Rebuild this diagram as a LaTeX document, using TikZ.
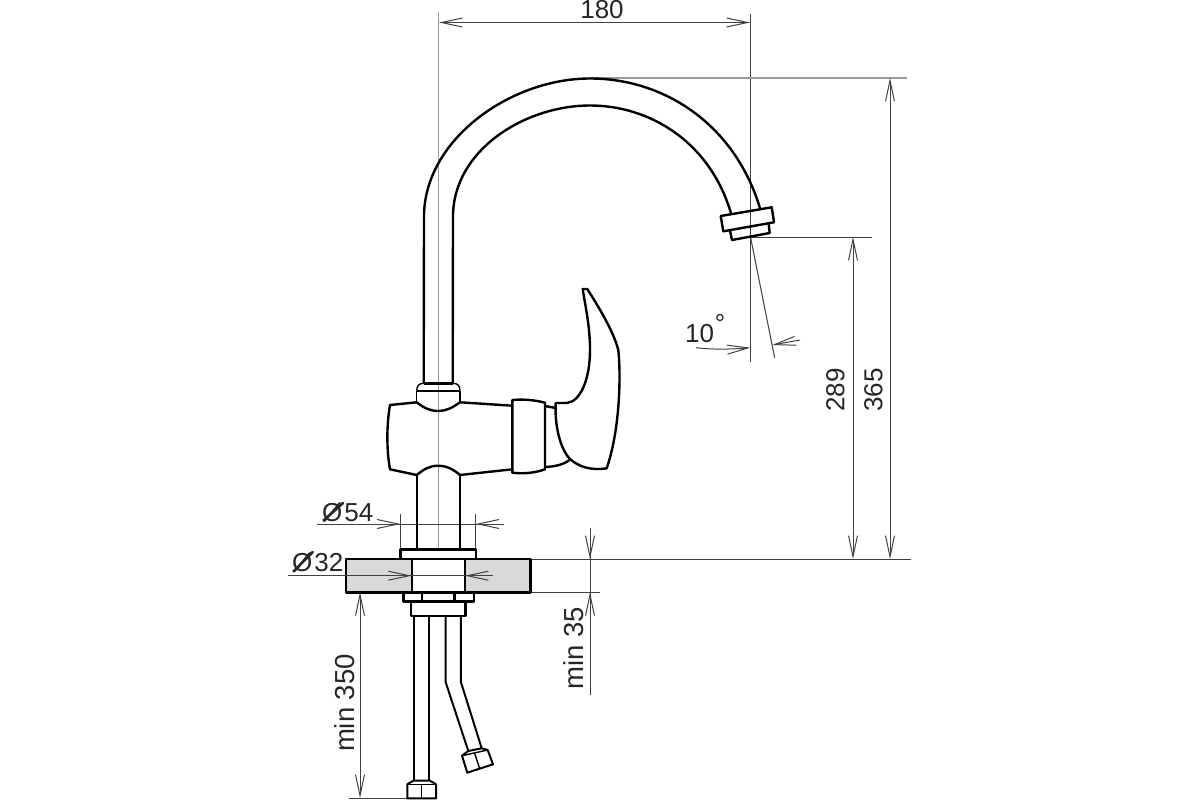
\documentclass[tikz,border=0pt]{standalone}
\usepackage{fontspec}
\setmainfont{Liberation Sans}
\usetikzlibrary{arrows.meta}
\tikzset{
  outline/.style={line width=2.4pt,black,line join=round},
  semioutline/.style={line width=2pt,black,line join=round},
  hairline/.style={line width=1.4pt,black,line join=round},
  dim/.style={line width=1pt,black!75},
  light/.style={line width=1.2pt,black!40},
  slash/.style={line width=2.6pt,black!85,line cap=round},
  tip/.style={dim,{Straight Barb[length=21pt,width=9pt,line width=1pt]}-{Straight Barb[length=21pt,width=9pt,line width=1pt]}},
  endtip/.style={dim,-{Straight Barb[length=21pt,width=9pt,line width=1pt]}},
  label/.style={inner sep=0pt,text=black!85,font=\fontsize{26}{30}\selectfont},
  minlabel/.style={inner sep=0pt,text=black!85,font=\fontsize{27.5}{30}\selectfont}
}
\begin{document}
\begin{tikzpicture}[x=1pt,y=-1pt]
\useasboundingbox (0,0) rectangle (1200,800);
% plate
\fill[black!15] (345.7,559) rectangle (530.3,592.3);
% thin lines
\draw[light] (438.5,12) -- (438.5,549);
\draw[dim] (750.5,14) -- (750.5,362);
\draw[dim] (750.5,237) -- (774.7,358);
\draw[dim] (750.5,237) -- (872,237);
\draw[light] (590,78) -- (907,78);
\draw[dim] (530,559) -- (911,559);
\draw[dim] (530,592.3) -- (600,592.3);
\draw[dim] (349,798.5) -- (407,798.5);
\draw[dim] (400.5,514) -- (400.5,549);
\draw[dim] (475.7,514) -- (475.7,549);
% dimensions
\draw[tip] (439,22.5) -- (750,22.5);
\draw[tip] (853,237) -- (853,559);
\draw[tip] (890,78) -- (890,559);
\draw[tip] (360,592.3) -- (360,798);
\draw[dim] (316.7,524) -- (504,524);
\draw[endtip] (380,524) -- (400.5,524);
\draw[endtip] (504,524) -- (475.7,524);
\draw[endtip] (590,528) -- (590,559);
\draw[endtip] (590,695) -- (590,592.3);
\draw[dim] (590,528) -- (590,695);
\draw[endtip] (696,347.7) .. controls (715,350) and (735,349) .. (750.5,347.7);
\draw[endtip] (800,340) -- (772.3,345);
% spout
\draw[outline] (423.7,383.3) -- (424,216.7) .. controls (424,140) and (510,78.5) .. (590,78.5) .. controls (665,78.5) and (735,125) .. (760,208.3);
\draw[outline] (452.7,383.3) -- (453,216.7) .. controls (453,150) and (525,105.5) .. (590,105.5) .. controls (650,105.5) and (710,142) .. (731,213.3);
\draw[outline] (720.7,216) -- (771.7,207.3) -- (774,222.3) -- (723.3,231.3) -- cycle;
\draw[outline] (730,230.7) -- (732,240) -- (769.7,233) -- (768.7,224.3);
% collar on top of body
\draw[outline] (423.7,383.3) -- (452.7,383.3);
\draw[outline] (416.7,390.7) -- (460,390.7);
\draw[hairline] (416.7,390.7) .. controls (416.7,386) and (419,383.3) .. (423.7,383.3);
\draw[hairline] (460,390.7) .. controls (460,386) and (458,383.3) .. (452.7,383.3);
\draw[hairline] (416.7,390.7) -- (416.7,402.3);
\draw[hairline] (460,390.7) -- (460,402.3);
% body
\draw[outline] (512.3,405.7) -- (460,402.3) .. controls (452,408) and (446,411) .. (438.3,411) .. controls (430,411) and (424,408) .. (416.7,402.3) -- (390,405) .. controls (386.5,425) and (386.5,450) .. (390,469.3) -- (416.7,475) .. controls (424,469) and (430,465.7) .. (438.3,465.7) .. controls (446,465.7) and (453,469) .. (460,475) -- (512.3,469.3);
% lower tube
\draw[semioutline] (416.9,475) -- (416.9,549.3);
\draw[semioutline] (459.8,475) -- (459.8,549.3);
% band
\draw[outline] (512.3,400) .. controls (523,399) and (535,400) .. (545,402.7) -- (545,469.3) .. controls (535,473) and (523,474) .. (512.3,472.7) -- cycle;
% neck
\draw[outline] (545,406) -- (555.7,408);
\draw[outline] (545,467) .. controls (556,466.5) and (564,464.5) .. (570.3,459.3);
% handle
\draw[outline] (555.7,403) -- (566.7,403) .. controls (580,402) and (590,380) .. (590,350) .. controls (590,325) and (585,305) .. (582.7,289) -- (587.3,289) .. controls (598,306) and (613,330) .. (618.3,350) .. controls (621,375) and (620,430) .. (606.7,468.3) .. controls (590,471) and (578,466) .. (570.3,459.3) .. controls (560,449) and (554.5,425) .. (555.7,403) -- cycle;
% flange, plate
\draw[outline] (400.3,559) -- (400.3,549.3) -- (475.7,549.3) -- (475.7,559);
\draw[outline] (345.7,559) rectangle (530.3,592.3);
\draw[outline,fill=white] (411.7,559) rectangle (465,592.3);
\draw[dim] (288,575.7) -- (493,575.7);
\draw[endtip] (390,575.7) -- (411.7,575.7);
\draw[endtip] (493,575.7) -- (465,575.7);
\draw[outline] (403.3,592.3) rectangle (473.7,601.3);
\draw[outline] (421.7,592.3) -- (421.7,601.3);
\draw[outline] (454.3,592.3) -- (454.3,601.3);
\draw[outline] (411,601.3) rectangle (465.3,616);
% hoses
\draw[semioutline] (413.8,616) -- (413.8,780.7);
\draw[semioutline] (429.3,616) -- (429.3,780.7);
\draw[semioutline] (445.5,616) -- (445.5,681.7) -- (468.3,751);
\draw[semioutline] (460.8,616) -- (460.8,681.7) -- (481.7,748.3);
% bottom nut
\draw[semioutline] (407.3,784.3) -- (413.3,780.7) -- (430,780.7) -- (436,784.3) -- (436,798.3) -- (407.3,798.3) -- cycle;
\draw[hairline] (407.3,784.3) -- (436,784.3);
\draw[hairline] (421.7,784.3) -- (421.7,798.3);
% angled nut
\draw[semioutline] (462,755.7) -- (468.3,751) -- (481.7,748.3) -- (487.7,750) -- (493,764.3) -- (467.3,772.7) -- cycle;
\draw[hairline] (462,755.7) -- (487.7,750);
\draw[hairline] (474.7,753.5) -- (479.7,768.7);
% labels
\node[label] (dimA) at (602,10) {180};
\node[label,rotate=90] (dimB) at (835.5,390) {289};
\node[label,rotate=90] (dimC) at (873.5,390) {365};
\node[label] (dimD) at (699.5,334) {10};
\node[label] (dimE) at (720,323) {°};
\node[label,anchor=east] (dimF) at (373.5,512.5) {Ø\kern2pt 54};
\node[label,anchor=east] (dimG) at (343.5,562.5) {Ø\kern2pt 32};
\draw[slash] (323.5,520.5) -- (343,503);
\draw[slash] (293.5,571.5) -- (312.7,552);
\node[minlabel,rotate=90] (dimH) at (574,648) {min 35};
\node[minlabel,rotate=90] (dimI) at (344.5,703) {min 350};
\end{tikzpicture}
\end{document}
